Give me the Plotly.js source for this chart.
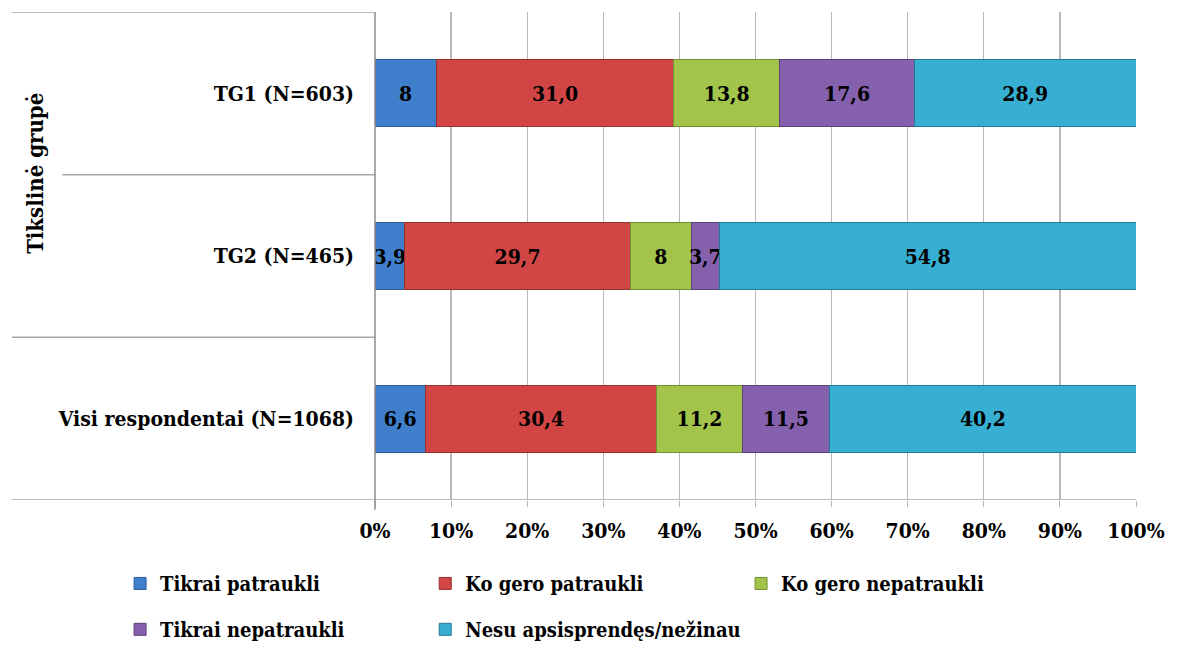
<!DOCTYPE html>
<html>
<head>
<meta charset="utf-8">
<script src="https://cdn.plot.ly/plotly-3.0.1.min.js"></script>
<style>
  body { margin: 0; background: #fff; }
  #chart { width: 1181px; height: 646px; }
</style>
</head>
<body>
<div id="chart"></div>
<script>
// groups, bottom to top as drawn
var groups = ["Visi respondentai (N=1068)", "TG2 (N=465)", "TG1 (N=603)"];

var seriesNames = ["Tikrai patraukli", "Ko gero patraukli", "Ko gero nepatraukli",
                   "Tikrai nepatraukli", "Nesu apsisprendęs/nežinau"];

// values per series as printed on the chart, same order as groups
var tikraiPatraukli   = ["6,6", "3,9", "8"];
var koGeroPatraukli   = ["30,4", "29,7", "31,0"];
var koGeroNepatraukli = ["11,2", "8", "13,8"];
var tikraiNepatraukli = ["11,5", "3,7", "17,6"];
var nesuApsisprendes  = ["40,2", "54,8", "28,9"];

var xTicks = [0, 10, 20, 30, 40, 50, 60, 70, 80, 90, 100];

var colors = ["#3f7fcc", "#d24545", "#a3c44a", "#8560ac", "#36afd2"];
var edges  = ["#2c5c96", "#963030", "#72902f", "#5c4178", "#237a94"];

var allSeries = [tikraiPatraukli, koGeroPatraukli, koGeroNepatraukli, tikraiNepatraukli, nesuApsisprendes];

// one legend per entry so the two rows sit like the original
var legendIds = ["legend", "legend2", "legend3", "legend4", "legend5"];
var legendX = [-0.335, 0.066, 0.481, -0.335, 0.066];
var legendY = [-0.171, -0.171, -0.171, -0.265, -0.265];

var font = "'DejaVu Serif Condensed', 'DejaVu Serif'";

var traces = allSeries.map(function (labels, i) {
  return {
    type: "bar",
    orientation: "h",
    name: seriesNames[i],
    legend: legendIds[i],
    y: groups,
    x: labels.map(function (s) { return parseFloat(s.replace(",", ".")); }),
    text: labels,
    textposition: "inside",
    insidetextanchor: "middle",
    textangle: 0,
    constraintext: "none",
    textfont: { family: font, size: 21, color: "#000", weight: "bold" },
    marker: { color: colors[i], line: { color: edges[i], width: 1 } },
    hoverinfo: "skip"
  };
});

// left-side frame lines of the category area (paper x, data y)
var lineColor = "#a6a6a6";
var shapes = [
  { type: "line", xref: "paper", yref: "y", x0: -0.477, x1: 0, y0: 2.5, y1: 2.5, line: { color: lineColor, width: 1.5 } },
  { type: "line", xref: "paper", yref: "y", x0: -0.411, x1: 0, y0: 1.5, y1: 1.5, line: { color: lineColor, width: 1.5 } },
  { type: "line", xref: "paper", yref: "y", x0: -0.477, x1: 0, y0: 0.5, y1: 0.5, line: { color: lineColor, width: 1.5 } },
  { type: "line", xref: "paper", yref: "y", x0: -0.477, x1: 1, y0: -0.5, y1: -0.5, line: { color: lineColor, width: 1.5 } },
  { type: "line", xref: "paper", yref: "paper", x0: 0, x1: 0, y0: -0.02, y1: 1, line: { color: "#8c8c8c", width: 1.5 } }
];

var layout = {
  width: 1181,
  height: 646,
  margin: { l: 375, r: 45, t: 12, b: 146, autoexpand: false },
  paper_bgcolor: "#fff",
  plot_bgcolor: "#fff",
  barmode: "stack",
  barnorm: "percent",
  bargap: 0.59,
  uniformtext: { mode: "show", minsize: 21 },
  font: { family: font, color: "#000" },
  xaxis: {
    range: [0, 100],
    tickvals: xTicks,
    ticktext: xTicks.map(function (t) { return t + "%"; }),
    tickfont: { family: font, size: 21, weight: "bold" },
    ticklabelstandoff: 6,
    showgrid: true,
    gridcolor: "#b8b8b8",
    gridwidth: 1.3,
    zeroline: false,
    ticks: "outside",
    ticklen: 6,
    tickcolor: "#b8b8b8",
    showline: false,
    fixedrange: true
  },
  yaxis: {
    type: "category",
    categoryorder: "array",
    categoryarray: groups,
    range: [-0.5, 2.5],
    tickfont: { family: font, size: 21, weight: "bold" },
    ticks: "",
    ticklabelstandoff: 20,
    showgrid: false,
    zeroline: false,
    showline: false,
    fixedrange: true
  },
  shapes: shapes,
  annotations: [{
    text: "Tikslinė grupė",
    textangle: -90,
    xref: "paper", yref: "paper",
    x: -0.447, y: 0.670,
    xanchor: "center", yanchor: "middle",
    showarrow: false,
    font: { family: font, size: 22, weight: "bold" }
  }],
  showlegend: true
};

legendIds.forEach(function (id, i) {
  layout[id] = {
    x: legendX[i], y: legendY[i],
    xanchor: "left", yanchor: "middle",
    orientation: "h",
    bgcolor: "rgba(0,0,0,0)",
    font: { family: font, size: 20, weight: "bold" },
    itemwidth: 30
  };
});

Plotly.newPlot("chart", traces, layout, { displayModeBar: false, staticPlot: true });
</script>
</body>
</html>
